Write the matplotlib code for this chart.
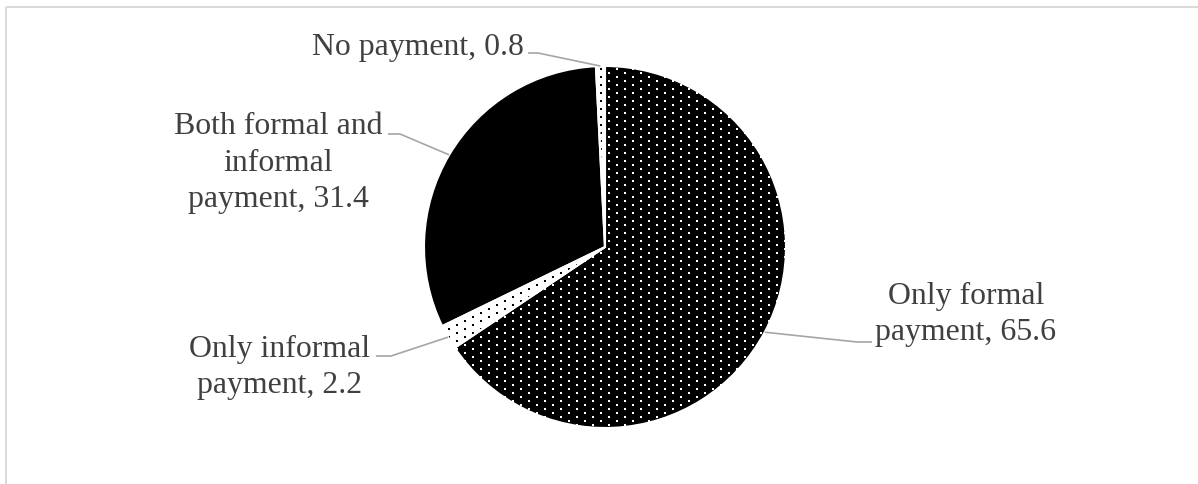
import numpy as np
import matplotlib
matplotlib.use("Agg")
import matplotlib.pyplot as plt
from matplotlib.patches import Wedge

# ---------------- data ----------------
categories = ["Only formal payment", "Only informal payment",
              "Both formal and informal payment", "No payment"]
values = [65.6, 2.2, 31.4, 0.8]
# category names as they are wrapped in the chart labels
wrapped_names = ["Only formal\npayment", "Only informal\npayment",
                 "Both formal and\ninformal\npayment", "No payment"]

# ---------------- style ----------------
W, H = 1198, 484
TEXT_COLOR = "#404040"
LEADER_COLOR = "#a6a6a6"
BORDER_COLOR = "#d9d9d9"
face_colors = ["black", "white", "black", "white"]
dot_colors = ["white", "black", None, "black"]   # None = no pattern

pie_center = (605, H - 247)
pie_radius = 181
LINE_STEP = 36  # px between baselines

# label anchor (center x, first-line baseline y) in image pixels
label_pos = [(966, 304), (280, 357), (278, 135), (418, 55)]
# leader line: text-side end point and elbow (image pixels)
leader_end = [(872, 342), (376, 356), (388, 134), (528, 53)]
leader_elbow = [(857, 342), (391, 356), (400, 134), (538, 53)]

plt.rcParams["font.family"] = ["Liberation Serif", "DejaVu Serif"]

fig = plt.figure(figsize=(W / 100, H / 100), dpi=100)
ax = fig.add_axes([0, 0, 1, 1])

wedges, _ = ax.pie(values, colors=face_colors, startangle=90, counterclock=False,
                   center=pie_center, radius=pie_radius,
                   wedgeprops=dict(linewidth=0))

# dotted fill texture (pixel aligned)
yy, xx = np.mgrid[0:H, 0:W]
mask = ((yy % 4) < 2) & (((xx + 8 * ((yy // 4) % 2)) % 16) < 2)
for w, dc in zip(wedges, dot_colors):
    if dc is None:
        continue
    rgba = np.zeros((H, W, 4))
    c = matplotlib.colors.to_rgb(dc)
    rgba[mask, 0:3] = c
    rgba[mask, 3] = 1.0
    im = ax.imshow(rgba, extent=(0, W, 0, H), origin="upper",
                   interpolation="nearest", zorder=w.get_zorder() + 0.1)
    im.set_clip_path(w)

# white separators
for w in wedges:
    ax.add_patch(Wedge(w.center, w.r, w.theta1, w.theta2, fill=False,
                       edgecolor="white", linewidth=1.5, zorder=5))

# labels + leader lines
for w, name, v, (lx, ly), (ex, ey), (bx, by) in zip(
        wedges, wrapped_names, values, label_pos, leader_end, leader_elbow):
    nlines = name.count("\n") + 1
    last_baseline = ly + (nlines - 1) * LINE_STEP
    ax.text(lx, H - last_baseline, f"{name}, {v}", ha="center", va="baseline",
            multialignment="center", fontsize=22.9, color=TEXT_COLOR,
            linespacing=1.33, zorder=6)
    mid = np.deg2rad((w.theta1 + w.theta2) / 2)
    axp = w.center[0] + w.r * np.cos(mid)
    ayp = w.center[1] + w.r * np.sin(mid)
    ax.plot([ex, bx, axp], [H - ey, H - by, ayp], color=LEADER_COLOR,
            linewidth=1.2, solid_capstyle="butt", zorder=6)

# chart-area border
ax.plot([6, W + 5], [H - 7, H - 7], color=BORDER_COLOR, linewidth=1.4,
        solid_capstyle="butt", zorder=7)
ax.plot([6, 6], [H - 7, -5], color=BORDER_COLOR, linewidth=1.4,
        solid_capstyle="butt", zorder=7)

ax.set_xlim(0, W)
ax.set_ylim(0, H)
ax.set_aspect("auto")
ax.axis("off")

fig.savefig("out.png", dpi=100, facecolor="white")
